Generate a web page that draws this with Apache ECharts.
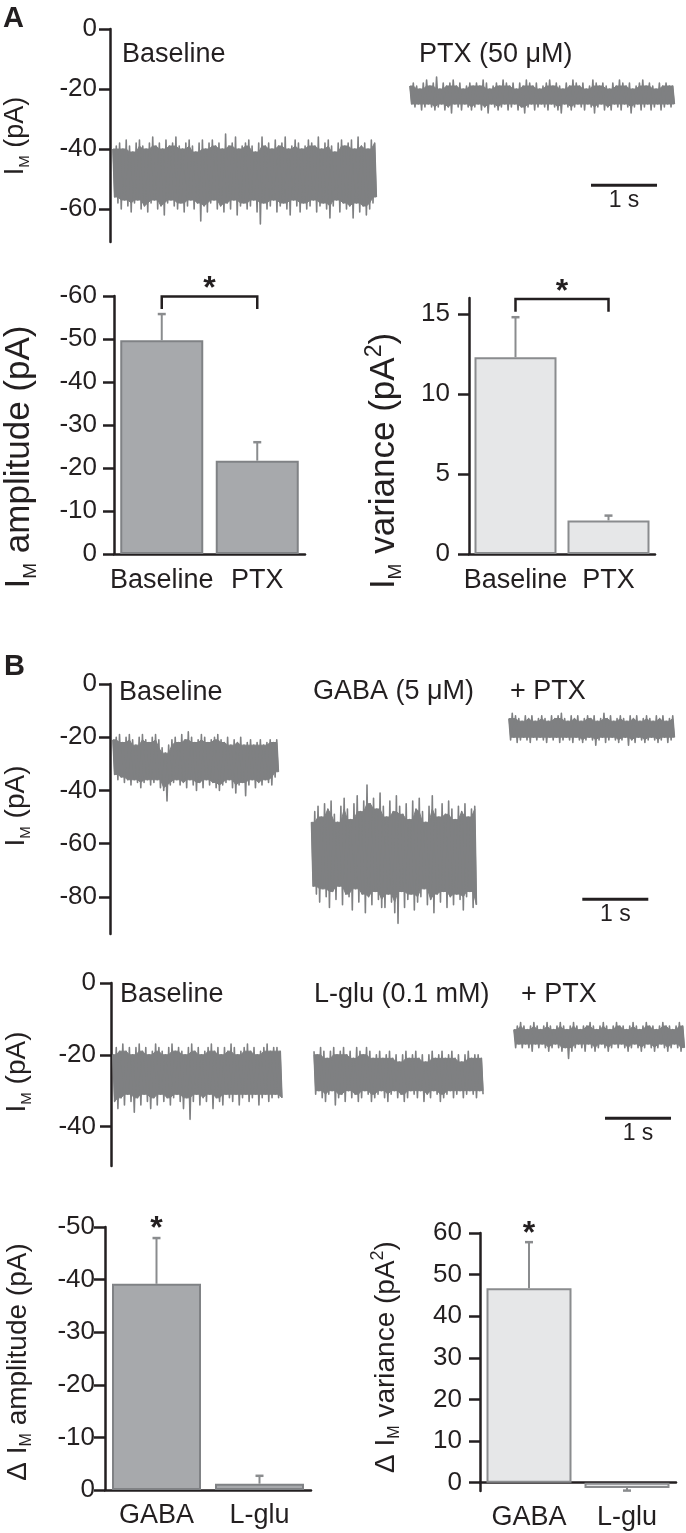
<!DOCTYPE html>
<html><head><meta charset="utf-8">
<script src="https://cdn.jsdelivr.net/npm/echarts@6.0.0/dist/echarts.min.js"></script>
<style>html,body{margin:0;padding:0;background:#fff;}#c{width:686px;height:1533px;}</style>
</head><body><div id="c"></div>
<script>
// ===== DATA =====
// Panel A traces (pA): per-bin upper / lower peaks
const aBaseHi = [-40,-39,-38,-40,-37,-39,-41,-38,-37,-39,-40,-38,-36,-39,-38,-40,-37,-39,-38,-36,-39,-40,-38,-37,-39,-41,-38,-37,-40,-38,-37,-39,-38,-40,-35,-39,-38,-36,-40,-39,-38,-37,-39,-41,-38,-36,-39,-38,-40,-37,-39,-38,-36,-40,-39,-37,-38,-40,-39,-37,-38,-39,-36,-40,-38,-37,-39,-41,-38,-37,-39,-38,-37,-40,-36,-39,-38,-40,-37,-38];
const aBaseLo = [-56,-58,-60,-57,-59,-61,-58,-57,-60,-59,-61,-58,-57,-60,-59,-62,-58,-57,-59,-60,-58,-61,-59,-57,-60,-58,-64,-59,-61,-58,-57,-60,-59,-61,-58,-60,-57,-62,-59,-58,-60,-59,-57,-61,-65,-58,-60,-59,-57,-61,-59,-58,-60,-62,-57,-59,-61,-58,-60,-59,-57,-61,-59,-58,-60,-63,-59,-57,-61,-58,-60,-59,-63,-58,-61,-59,-62,-60,-58,-56];
const aPtxHi = [-19,-18,-19,-20,-18,-17,-19,-18,-16,-20,-18,-19,-18,-17,-19,-18,-20,-19,-18,-19,-18,-19,-17,-18,-20,-19,-18,-19,-17,-18,-19,-18,-20,-18,-19,-17,-18,-19,-18,-20,-19,-18,-17,-19,-18,-19,-20,-18,-19,-17,-18,-19,-18,-20,-19,-17,-18,-19,-18,-19,-20,-18,-19,-17,-18,-19,-18,-20,-19,-18,-17,-19,-18,-19,-20,-18,-19,-18,-19,-19];
const aPtxLo = [-25,-26,-25,-27,-26,-25,-26,-27,-26,-25,-27,-26,-28,-25,-26,-27,-25,-26,-27,-26,-25,-27,-26,-28,-25,-26,-27,-26,-25,-27,-26,-25,-27,-26,-28,-26,-25,-27,-26,-25,-26,-27,-25,-26,-27,-28,-25,-26,-27,-26,-25,-26,-27,-25,-26,-28,-26,-25,-27,-26,-27,-25,-26,-27,-25,-26,-28,-26,-25,-27,-26,-25,-27,-26,-25,-27,-26,-25,-26,-25];
const aWindows = [[0.045, 4.06], [4.545, 8.576]]; // s

// Panel A bars
const aCats = ['Baseline', 'PTX'];
const aAmpMean = [-49.7, -21.7];
const aAmpSem = [6.1, 4.3];
const aVarMean = [12.3, 2.1];
const aVarSem = [2.5, 0.3];

// Panel B, row 1 traces (Baseline, GABA, +PTX)
const b1BaseHi = [-21,-20,-19,-22,-20,-19,-21,-23,-20,-19,-21,-22,-20,-19,-21,-24,-26,-23,-21,-20,-22,-19,-21,-18,-20,-22,-21,-19,-20,-22,-21,-20,-19,-21,-22,-20,-23,-21,-22,-20,-23,-22,-21,-23,-22,-21,-23,-22,-21,-22,-21];
const b1BaseLo = [-34,-36,-35,-37,-36,-38,-36,-37,-39,-37,-36,-38,-37,-36,-39,-40,-44,-38,-37,-36,-38,-37,-39,-36,-38,-40,-37,-39,-36,-38,-37,-39,-40,-38,-37,-36,-39,-41,-38,-37,-42,-38,-36,-39,-37,-38,-36,-37,-38,-35,-33];
const b1GabaHi = [-52,-48,-46,-50,-45,-47,-44,-49,-52,-46,-43,-47,-51,-45,-42,-48,-44,-38,-45,-43,-47,-41,-46,-50,-44,-48,-42,-46,-49,-45,-51,-44,-47,-43,-48,-52,-46,-42,-47,-50,-45,-49,-44,-47,-51,-46,-48,-45,-50,-47,-46];
const b1GabaLo = [-76,-79,-82,-77,-80,-84,-78,-81,-76,-83,-79,-80,-85,-77,-82,-79,-86,-80,-83,-78,-81,-84,-84,-79,-82,-86,-90,-78,-84,-81,-79,-85,-82,-80,-77,-83,-81,-86,-79,-82,-78,-84,-80,-83,-79,-81,-85,-80,-78,-84,-83];
const b1PtxHi = [-13,-11,-12,-13,-14,-12,-13,-12,-14,-13,-12,-13,-14,-12,-13,-12,-11,-13,-14,-12,-13,-12,-14,-13,-12,-13,-12,-14,-13,-11,-13,-12,-14,-13,-12,-13,-14,-12,-13,-12,-14,-13,-12,-13,-14,-12,-13,-12,-14,-13,-12];
const b1PtxLo = [-21,-20,-22,-21,-20,-21,-22,-20,-21,-20,-21,-22,-20,-21,-20,-22,-21,-20,-21,-22,-20,-21,-22,-21,-20,-21,-23,-21,-20,-22,-21,-20,-21,-22,-21,-20,-23,-21,-22,-20,-21,-22,-21,-20,-21,-22,-21,-20,-22,-21,-20];
const b1Windows = [[0.045, 2.576], [3.053, 5.576], [6.045, 8.576]];

// Panel B, row 2 traces (Baseline, L-glu, +PTX)
const b2BaseHi = [-20,-18,-19,-17,-19,-18,-20,-18,-17,-19,-18,-20,-19,-17,-18,-19,-20,-18,-17,-19,-18,-19,-20,-18,-17,-19,-18,-20,-19,-18,-17,-19,-18,-20,-18,-19,-17,-18,-20,-19,-18,-17,-19,-18,-20,-19,-18,-17,-19,-18,-18,-19];
const b2BaseLo = [-33,-35,-32,-34,-31,-33,-36,-32,-34,-31,-33,-35,-32,-34,-31,-33,-32,-34,-32,-31,-33,-35,-32,-38,-33,-31,-34,-32,-33,-31,-35,-32,-33,-34,-31,-32,-33,-31,-34,-32,-31,-33,-32,-31,-34,-32,-31,-33,-32,-31,-32,-32];
const b2GluHi = [-19,-20,-18,-19,-21,-19,-18,-20,-19,-18,-20,-19,-21,-18,-19,-20,-18,-19,-21,-20,-19,-21,-20,-19,-21,-20,-22,-20,-19,-21,-20,-19,-21,-20,-22,-20,-19,-21,-20,-19,-21,-20,-19,-21,-20,-22,-20,-19,-21,-20,-20,-21];
const b2GluLo = [-31,-30,-32,-33,-31,-30,-34,-32,-31,-33,-30,-32,-31,-33,-32,-30,-31,-33,-32,-31,-30,-32,-33,-31,-30,-32,-31,-33,-32,-30,-31,-32,-30,-33,-31,-32,-30,-31,-33,-32,-31,-30,-32,-31,-30,-32,-31,-30,-31,-32,-30,-31];
const b2PtxHi = [-13,-12,-11,-12,-13,-12,-11,-12,-13,-12,-11,-12,-13,-12,-11,-12,-13,-12,-11,-12,-13,-12,-12,-11,-12,-13,-12,-11,-12,-13,-12,-11,-12,-12,-13,-12,-11,-12,-13,-12,-11,-12,-12,-13,-12,-11,-12,-12,-13,-12,-11,-12];
const b2PtxLo = [-18,-17,-18,-17,-18,-19,-17,-18,-17,-18,-19,-18,-17,-18,-19,-18,-21,-19,-18,-17,-18,-19,-17,-18,-19,-18,-17,-18,-19,-18,-17,-18,-17,-18,-19,-18,-17,-18,-19,-18,-17,-18,-19,-18,-17,-18,-19,-18,-17,-18,-19,-18];
const b2Windows = [[0.03, 2.614], [3.076, 5.662], [6.106, 8.712]];

// Panel B bars
const bCats = ['GABA', 'L-glu'];
const bAmpMean = [-39.2, -1.2];
const bAmpSem = [8.7, 1.5];
const bVarMean = [46.7, -1.3];
const bVarSem = [11.1, 0.6];

// Tick labels
const aTraceTicks = [0, -20, -40, -60];
const aAmpTicks = [0, -10, -20, -30, -40, -50, -60];
const aVarTicks = [0, 5, 10, 15];
const b1TraceTicks = [0, -20, -40, -60, -80];
const b2TraceTicks = [0, -20, -40];
const bAmpTicks = [0, -10, -20, -30, -40, -50];
const bVarTicks = [0, 10, 20, 30, 40, 50, 60];

// ===== STYLE / BUILD =====
const FONT = '"Liberation Sans", Arial, Helvetica, sans-serif';
const INK = '#231f20';
const TRACE = '#7f8082';
const AXW = 2.5;
const PXS = 66; // px per second (1 s scale bar)

const chart = echarts.init(document.getElementById('c'), null, {renderer: 'canvas'});

const grids = [
  {left: 110, top: 29, width: 576, height: 213},
  {left: 114, top: 296, width: 191, height: 258},
  {left: 469, top: 298, width: 186, height: 256},
  {left: 110, top: 684, width: 576, height: 250},
  {left: 111, top: 983, width: 575, height: 183},
  {left: 105, top: 1227, width: 206, height: 263},
  {left: 480, top: 1233, width: 196, height: 258}
].map(g => Object.assign({containLabel: false, outerBoundsMode: 'none'}, g));

function timeAx(gi) {
  return {type: 'value', gridIndex: gi, min: 0, max: grids[gi].width / PXS, show: false};
}
function catAx(gi, cats, margin) {
  return {type: 'category', gridIndex: gi, data: cats,
    axisLine: {show: true, onZero: true, lineStyle: {color: INK, width: AXW}},
    axisTick: {show: false},
    axisLabel: {margin: margin, interval: 0, hideOverlap: false, color: INK, fontSize: 27, fontFamily: FONT},
    splitLine: {show: false}};
}
function valAx(gi, min, max, ticks, margin, fs, inverse) {
  return {type: 'value', gridIndex: gi, min: min, max: max, inverse: !!inverse,
    axisLine: {show: true, onZero: false, lineStyle: {color: INK, width: AXW}},
    axisTick: {show: true, length: 11, lineStyle: {color: INK, width: AXW}, customValues: ticks},
    axisLabel: {margin: margin, color: INK, fontSize: fs, fontFamily: FONT, customValues: ticks},
    splitLine: {show: false}};
}

// dense current trace: solid core between the inner envelopes + zig-zag spikes to each bin's peaks
function traceSeries(gi, win, hi, lo) {
  const n = hi.length;
  const dt = (win[1] - win[0]) / n;
  const data = hi.map((h, i) => [win[0] + dt * i, lo[i], h]);
  return {type: 'custom', xAxisIndex: gi, yAxisIndex: gi, silent: true, clip: false,
    data: data, encode: {x: 0, y: [1, 2]},
    renderItem: function (params, api) {
      if (params.dataIndex !== 0) return null;
      const zig = [], top = [], bot = [];
      for (let i = 0; i < n; i++) {
        const a = Math.max(i - 1, 0), b = Math.min(i + 1, n - 1);
        const innerHi = Math.min(hi[a], hi[i], hi[b]);
        const innerLo = Math.max(lo[a], lo[i], lo[b]);
        zig.push(api.coord([data[i][0], data[i][2]]));
        zig.push(api.coord([data[i][0] + dt / 2, data[i][1]]));
        top.push(api.coord([data[i][0], innerHi]));
        bot.push(api.coord([data[i][0] + dt / 2, innerLo]));
      }
      return {type: 'group', children: [
        {type: 'polygon', shape: {points: top.concat(bot.reverse())}, style: {fill: TRACE, stroke: TRACE, lineWidth: 1}},
        {type: 'polyline', shape: {points: zig}, style: {stroke: TRACE, lineWidth: 1.6, lineJoin: 'round', fill: null}}
      ]};
    }};
}
function scaleBar(gi, t0, t1, y) {
  return {type: 'custom', xAxisIndex: gi, yAxisIndex: gi, silent: true, clip: false,
    data: [[t0, y, t1]],
    renderItem: function (params, api) {
      const a = api.coord([api.value(0), api.value(1)]);
      const b = api.coord([api.value(2), api.value(1)]);
      return {type: 'group', children: [
        {type: 'line', shape: {x1: a[0], y1: a[1], x2: b[0], y2: b[1]}, style: {stroke: INK, lineWidth: 3}},
        {type: 'text', x: (a[0] + b[0]) / 2, y: a[1] + 15,
          style: {text: '1 s', fill: INK, fontSize: 23, fontFamily: FONT, align: 'center', verticalAlign: 'middle'}}
      ]};
    }};
}
function barSeries(gi, vals, width, fill, border) {
  return {type: 'bar', xAxisIndex: gi, yAxisIndex: gi, data: vals, barWidth: width, silent: true,
    itemStyle: {color: fill, borderColor: border, borderWidth: 2}};
}
function errSeries(gi, means, sems, color) {
  return {type: 'custom', xAxisIndex: gi, yAxisIndex: gi, silent: true, clip: false, z: 3,
    data: means.map((m, i) => [i, m, m + Math.sign(m) * sems[i]]),
    renderItem: function (params, api) {
      const p0 = api.coord([api.value(0), api.value(1)]);
      const p1 = api.coord([api.value(0), api.value(2)]);
      return {type: 'group', children: [
        {type: 'line', shape: {x1: p0[0], y1: p0[1], x2: p1[0], y2: p1[1]}, style: {stroke: color, lineWidth: 2}},
        {type: 'line', shape: {x1: p1[0] - 4, y1: p1[1], x2: p1[0] + 4, y2: p1[1]}, style: {stroke: color, lineWidth: 2.5}}
      ]};
    }};
}
function starText(x, y) {
  return {type: 'text', x: x, y: y + 7,
    style: {text: '*', fill: INK, fontSize: 32, fontWeight: 'bold', fontFamily: FONT, align: 'center', verticalAlign: 'middle'}};
}
function bracketSeries(gi, endVal, topVal, starVal) {
  return {type: 'custom', xAxisIndex: gi, yAxisIndex: gi, silent: true, clip: false, z: 4,
    data: [[0, endVal, topVal, starVal]],
    renderItem: function (params, api) {
      const a0 = api.coord([0, api.value(1)]), a1 = api.coord([0, api.value(2)]);
      const b0 = api.coord([1, api.value(1)]), b1 = api.coord([1, api.value(2)]);
      const s = api.coord([0, api.value(3)]);
      return {type: 'group', children: [
        {type: 'polyline', shape: {points: [a0, a1, b1, b0]}, style: {stroke: INK, lineWidth: 2.5, fill: null}},
        starText((a0[0] + b0[0]) / 2, s[1])
      ]};
    }};
}
function starSeries(gi, cat, val) {
  return {type: 'custom', xAxisIndex: gi, yAxisIndex: gi, silent: true, clip: false, z: 4,
    data: [[cat, val]],
    renderItem: function (params, api) {
      const s = api.coord([api.value(0), api.value(1)]);
      return starText(s[0], s[1]);
    }};
}

function label(x, y, text, size, bold) {
  return {type: 'text', x: x, y: y, silent: true,
    style: {text: text, fill: INK, fontSize: size, fontWeight: bold ? 'bold' : 'normal', fontFamily: FONT, align: 'left', verticalAlign: 'middle'}};
}
function yTitle(x, y, text, s, ss, sp) {
  return {type: 'text', x: x, y: y, rotation: Math.PI / 2, silent: true,
    style: {text: text, align: 'center', verticalAlign: 'middle', fill: INK, fontFamily: FONT, fontSize: s,
      rich: {
        n: {fontSize: s, fontFamily: FONT, fill: INK, lineHeight: Math.round(s * 1.2)},
        s: {fontSize: ss, fontFamily: FONT, fill: INK, verticalAlign: 'bottom', lineHeight: Math.round(0.3 * s + 0.66 * ss)},
        p: {fontSize: sp, fontFamily: FONT, fill: INK, verticalAlign: 'top', lineHeight: 2}
      }}};
}

const LIGHT_FILL = '#e6e7e8', LIGHT_BORDER = '#8a8c8e';
const DARK_FILL = '#a7a9ac', DARK_BORDER = '#808285';
const ERR = '#8a8c8e';

const option = {
  animation: false,
  backgroundColor: '#ffffff',
  grid: grids,
  xAxis: [timeAx(0), catAx(1, aCats, 13), catAx(2, aCats, 13), timeAx(3), timeAx(4), catAx(5, bCats, 12), catAx(6, bCats, 13)],
  yAxis: [
    valAx(0, -71, 0, aTraceTicks, 13, 26),
    valAx(1, -60, 0, aAmpTicks, 17, 26, true),
    valAx(2, 0, 16, aVarTicks, 19, 26),
    valAx(3, -94, 0, b1TraceTicks, 13, 26),
    valAx(4, -51, 0, b2TraceTicks, 15, 26),
    valAx(5, -50, 0, bAmpTicks, 10, 26, true),
    valAx(6, -2, 60, bVarTicks, 18, 26)
  ],
  series: [
    traceSeries(0, aWindows[0], aBaseHi, aBaseLo),
    traceSeries(0, aWindows[1], aPtxHi, aPtxLo),
    scaleBar(0, 7.288, 8.288, -52.1),
    barSeries(1, aAmpMean, 83, DARK_FILL, DARK_BORDER),
    errSeries(1, aAmpMean, aAmpSem, ERR),
    bracketSeries(1, -57, -59.9, -63.1),
    barSeries(2, aVarMean, 82, LIGHT_FILL, LIGHT_BORDER),
    errSeries(2, aVarMean, aVarSem, ERR),
    bracketSeries(2, 15.14, 15.94, 16.8),
    traceSeries(3, b1Windows[0], b1BaseHi, b1BaseLo),
    traceSeries(3, b1Windows[1], b1GabaHi, b1GabaLo),
    traceSeries(3, b1Windows[2], b1PtxHi, b1PtxLo),
    scaleBar(3, 7.156, 8.156, -80.9),
    traceSeries(4, b2Windows[0], b2BaseHi, b2BaseLo),
    traceSeries(4, b2Windows[1], b2GluHi, b2GluLo),
    traceSeries(4, b2Windows[2], b2PtxHi, b2PtxLo),
    scaleBar(4, 7.485, 8.485, -37.7),
    barSeries(5, bAmpMean, 89, DARK_FILL, DARK_BORDER),
    errSeries(5, bAmpMean, bAmpSem, ERR),
    starSeries(5, 0, -51),
    barSeries(6, bVarMean, 85, LIGHT_FILL, LIGHT_BORDER),
    errSeries(6, bVarMean, bVarSem, ERR),
    starSeries(6, 0, 61.5)
  ],
  graphic: [
    label(3, 19, 'A', 29, true),
    label(4, 667, 'B', 29, true),
    label(122, 55, 'Baseline', 27),
    label(419, 55, 'PTX (50 μM)', 27),
    label(119, 693, 'Baseline', 27),
    label(313, 692, 'GABA (5 μM)', 27),
    label(510, 692, '+ PTX', 27),
    label(120, 995, 'Baseline', 27),
    label(314, 995, 'L-glu (0.1 mM)', 27),
    label(521, 995, '+ PTX', 27),
    yTitle(16, 136, '{n|I}{s|M}{n| (pA)}', 27, 15, 15),
    yTitle(19, 457, '{n|I}{s|M}{n| amplitude (pA)}', 35, 19, 20),
    yTitle(384, 461, '{n|I}{s|M}{n| variance (pA}{p|2}{n|)}', 35, 19, 23),
    yTitle(16, 806, '{n|I}{s|M}{n| (pA)}', 28, 15, 15),
    yTitle(17, 1072, '{n|I}{s|M}{n| (pA)}', 28, 15, 15),
    yTitle(18, 1362, '{n|Δ I}{s|M}{n| amplitude (pA)}', 28, 16, 17),
    yTitle(386, 1357, '{n|Δ I}{s|M}{n| variance (pA}{p|2}{n|)}', 28, 16, 18)
  ]
};
chart.setOption(option);
</script></body></html>
